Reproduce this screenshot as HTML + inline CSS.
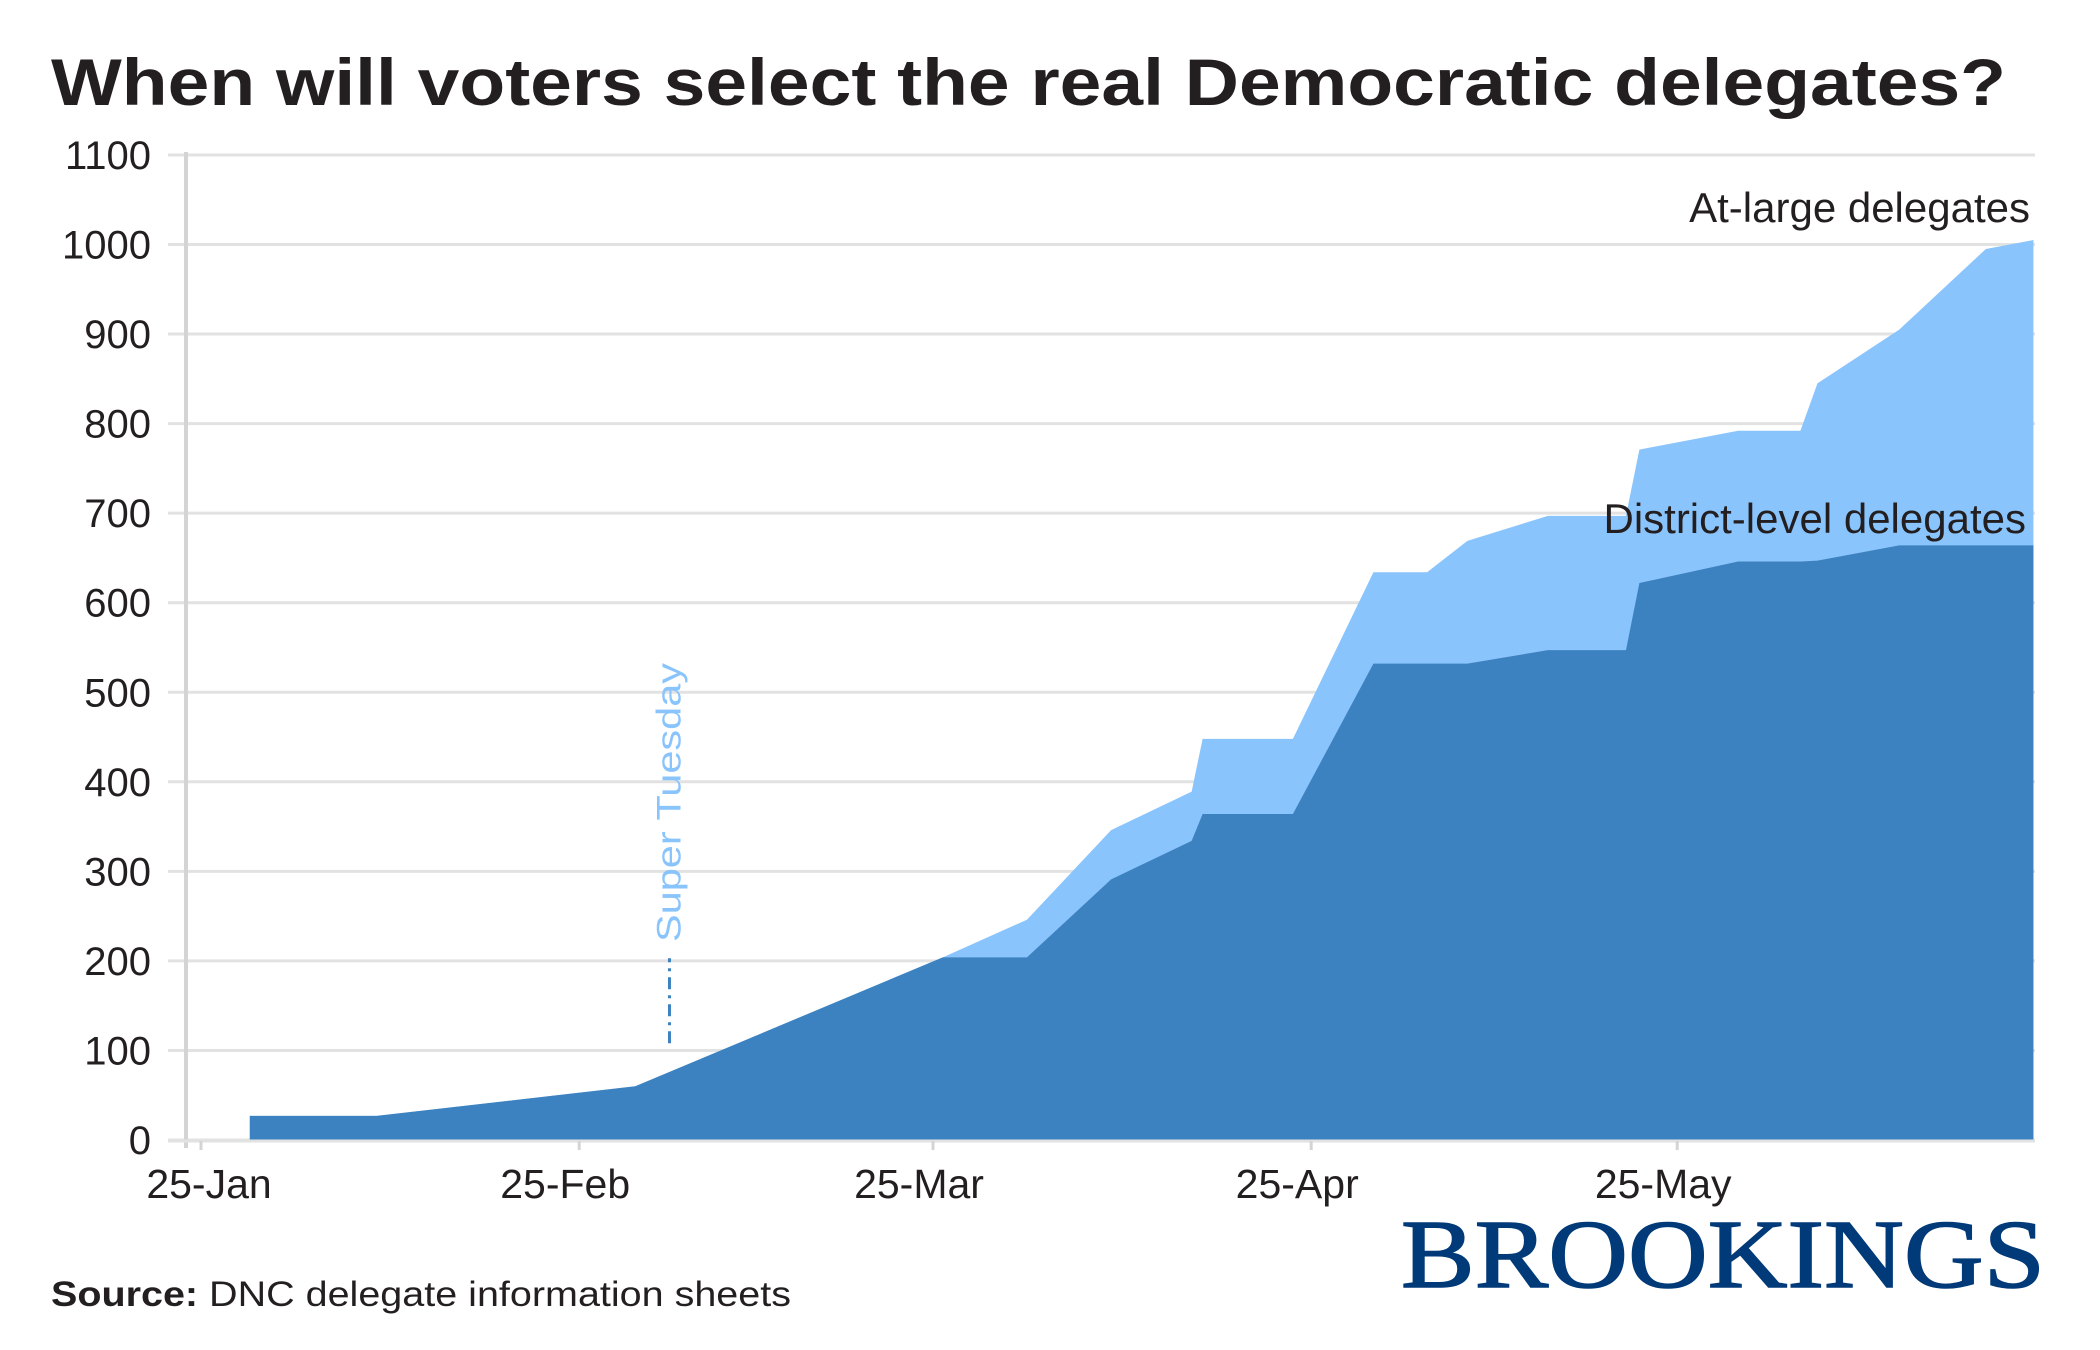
<!DOCTYPE html>
<html><head><meta charset="utf-8"><style>
html,body{margin:0;padding:0;background:#fff;}
svg{display:block;}
</style></head><body>
<svg width="2100" height="1350" viewBox="0 0 2100 1350" xmlns="http://www.w3.org/2000/svg">
<rect width="2100" height="1350" fill="#fff"/>
<text x="51" y="105" font-family="Liberation Sans, sans-serif" font-weight="bold" font-size="66" fill="#231f20" textLength="1955" lengthAdjust="spacingAndGlyphs">When will voters select the real Democratic delegates?</text>
<g id="grid"></g>
<g id="yticks"></g>
<g id="areas"></g>
<g id="xaxis"></g>
<g id="annot"></g>
<text x="2030" y="222" text-anchor="end" font-family="Liberation Sans, sans-serif" font-size="42" fill="#231f20">At-large delegates</text>
<text x="2026" y="533" text-anchor="end" font-family="Liberation Sans, sans-serif" font-size="42" fill="#231f20">District-level delegates</text>
<text x="51" y="1306" font-family="Liberation Sans, sans-serif" font-size="35" fill="#231f20" textLength="740" lengthAdjust="spacingAndGlyphs"><tspan font-weight="bold">Source:</tspan> DNC delegate information sheets</text>
<text x="1401" y="1287" font-family="Liberation Serif, serif" font-size="98" fill="#003a78" stroke="#003a78" stroke-width="1.5" textLength="644" lengthAdjust="spacingAndGlyphs">BROOKINGS</text>
</svg>
<script>
const days = [4,14.4,35.6,60.8,67.7,74.6,81.2,82.1,89.5,96.1,100.5,103.8,110.4,116.8,117.9,126,131.1,132.5,139.2,146.3,150.2];
const district = [27,27,60,204,204,291,334,364,364,532,532,532,547,547,622,646,646,647,664,664,664];
const atLarge = [0,0,0,0,42,55,55,84,84,102,102,137,150,150,149,146,146,198,241,331,341];
const yTicks = [0,100,200,300,400,500,600,700,800,900,1000,1100];
const xTickDays = [0,31,60,91,121];
const xTickLabels = ['25-Jan','25-Feb','25-Mar','25-Apr','25-May'];
const superTuesdayDay = 38.4;
const superTuesdayRange = [108,203];

const NS='http://www.w3.org/2000/svg';
const X = d => 201 + 12.2*d;
const Y = v => 1140 - v*0.8955;
function mk(tag, attrs, parent){const e=document.createElementNS(NS,tag);for(const k in attrs)e.setAttribute(k,attrs[k]);parent.appendChild(e);return e;}
const gridG=document.getElementById('grid'), ytG=document.getElementById('yticks'), areasG=document.getElementById('areas'), xaG=document.getElementById('xaxis'), anG=document.getElementById('annot');

yTicks.forEach(v=>{
  const l=mk('line',{x1:168,x2:2035,y1:Y(v),y2:Y(v),stroke:'#e2e2e2','stroke-width':3},gridG);
  
  
  const t=mk('text',{x:151,y:Y(v)+14,'text-anchor':'end','font-family':'Liberation Sans, sans-serif','font-size':40,fill:'#231f20'},ytG);
  t.textContent=v;
  
  
});

let totalPath='';
days.forEach((d,i)=>{totalPath+=(i?'L':'M')+X(d)+','+Y(district[i]+atLarge[i]);});
totalPath+='L'+X(days[days.length-1])+','+Y(0)+'L'+X(days[0])+','+Y(0)+'Z';
const pa=mk('path',{d:totalPath,fill:'#8ac4fc'},areasG);


let districtPath='';
days.forEach((d,i)=>{districtPath+=(i?'L':'M')+X(d)+','+Y(district[i]);});
districtPath+='L'+X(days[days.length-1])+','+Y(0)+'L'+X(days[0])+','+Y(0)+'Z';
const pb=mk('path',{d:districtPath,fill:'#3d82c0'},areasG);



const ya=mk('line',{x1:186,x2:186,y1:152,y2:1148,stroke:'#d4d4d4','stroke-width':4},xaG);


const xl=mk('line',{x1:168,x2:2035,y1:1141,y2:1141,stroke:'#e2e2e2','stroke-width':3},xaG);


xTickDays.forEach((d,i)=>{
  const tk=mk('line',{x1:X(d),x2:X(d),y1:1141,y2:1150,stroke:'#d4d4d4','stroke-width':3},xaG);
  
  
  const t=mk('text',{x:X(d)+(i===0?8:-14),y:1198,'text-anchor':'middle','font-family':'Liberation Sans, sans-serif','font-size':41,fill:'#231f20'},xaG);
  t.textContent=xTickLabels[i];
  
  
});

const sx=X(superTuesdayDay);
const sl=mk('line',{x1:sx,x2:sx,y1:Y(superTuesdayRange[0]),y2:Y(superTuesdayRange[1]),stroke:'#3d82c0','stroke-width':3,'stroke-dasharray':'12 6 3 6'},anG);


const st=mk('text',{x:0,y:0,transform:'translate('+(sx+11)+',942) rotate(-90)','font-family':'Liberation Sans Narrow, Liberation Sans, sans-serif','font-size':34,fill:'#8ac4fc',textLength:279,lengthAdjust:'spacingAndGlyphs'},anG);
st.textContent='Super Tuesday';


</script>
</body></html>
